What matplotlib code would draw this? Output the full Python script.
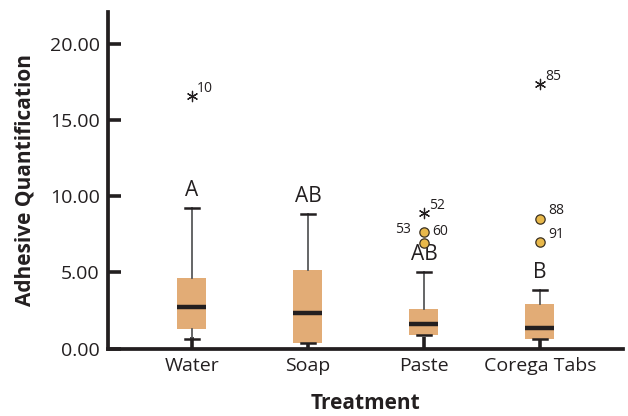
import matplotlib
matplotlib.use('Agg')
import matplotlib.pyplot as plt

plt.rcParams['font.family'] = ['Open Sans', 'DejaVu Sans']

# box statistics
treatments = ['Water', 'Soap', 'Paste', 'Corega Tabs']
q1 = [1.30, 0.34, 0.89, 0.60]
med = [2.71, 2.36, 1.61, 1.33]
q3 = [4.66, 5.16, 2.60, 2.93]
whislo = [0.64, 0.34, 0.89, 0.60]
whishi = [9.24, 8.85, 5.01, 3.87]
groups = ['A', 'AB', 'AB', 'B']

# outliers (circles) and extremes (stars)
circ_pos = [3, 3, 4, 4]
circ_val = [7.66, 6.92, 8.54, 6.99]
star_pos = [1, 3, 4]
star_val = [16.6, 8.93, 17.4]
star_lab = ['10', '52', '85']

txt = '#231f20'
fig = plt.figure(figsize=(6.28, 4.16), dpi=100)
ax = fig.add_axes([108/628, (416-348.5)/416, (623-108)/628, (348.5-12)/416])

stats = []
for i in range(4):
    stats.append(dict(med=med[i], q1=q1[i], q3=q3[i], whislo=whislo[i], whishi=whishi[i], fliers=[]))
ax.bxp(stats, positions=[1, 2, 3, 4], widths=0.25, patch_artist=True, showfliers=False,
       boxprops=dict(facecolor='#e2ac76', edgecolor='none'),
       medianprops=dict(color='#231f20', linewidth=3.2, solid_capstyle='butt'),
       whiskerprops=dict(color='#58595b', linewidth=1.3),
       capprops=dict(color='#231f20', linewidth=1.8))

ax.scatter(circ_pos, circ_val, s=45, facecolor='#e8b84a', edgecolor='#3a3020', linewidth=0.9, zorder=5)
ax.scatter(star_pos, star_val, s=55, marker=(6, 2, 0), color=txt, linewidth=0.9, zorder=5)

for p, v, l in zip(star_pos, star_val, star_lab):
    ax.text(p + 0.045, v + 0.5, l, fontsize=10, color=txt, ha='left', va='center')
ax.text(3 + 0.07, 7.66, '60', fontsize=10, color=txt, ha='left', va='center')
ax.text(3 - 0.11, 7.85, '53', fontsize=10, color=txt, ha='right', va='center')
ax.text(4 + 0.07, 8.54 + 0.5, '88', fontsize=10, color=txt, ha='left', va='center')
ax.text(4 + 0.07, 6.99 + 0.5, '91', fontsize=10, color=txt, ha='left', va='center')

for i in range(4):
    ax.text(i + 1, whishi[i] + 1.15, groups[i], fontsize=15, color=txt, ha='center', va='center')

ax.set_xlim(0.276, 4.716)
ax.set_ylim(0, 22.12)
ax.set_yticks([0, 5, 10, 15, 20])
ax.set_yticklabels(['0.00', '5.00', '10.00', '15.00', '20.00'])
ax.set_xticks([1, 2, 3, 4])
ax.set_xticklabels(treatments)
for s in ['top', 'right']:
    ax.spines[s].set_visible(False)
for s in ['left', 'bottom']:
    ax.spines[s].set_linewidth(2.7)
    ax.spines[s].set_color(txt)
ax.tick_params(direction='in', length=9, width=2.6, color=txt, labelcolor=txt, labelsize=14, pad=6)
ax.set_ylabel('Adhesive Quantification', fontsize=15, fontweight='bold', color=txt, labelpad=10)
ax.set_xlabel('Treatment', fontsize=15, fontweight='bold', color=txt, labelpad=13)

fig.savefig('out.png', dpi=100)
